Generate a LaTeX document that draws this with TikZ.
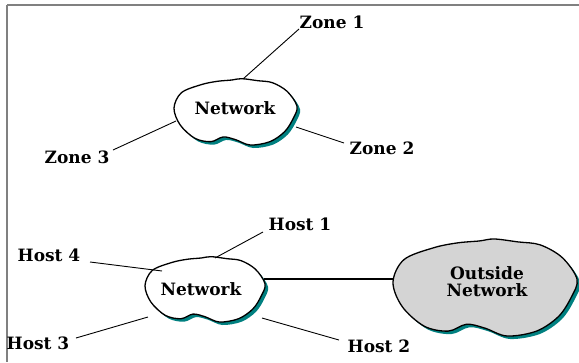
\documentclass[tikz,border=0pt]{standalone}
\usepackage{fontspec}
\setmainfont{DejaVu Serif}
\definecolor{shadowteal}{RGB}{0,128,128}
\definecolor{framegray}{RGB}{128,128,128}
\definecolor{outsidegray}{RGB}{212,212,212}
\newcommand\cloudpts{plot[smooth cycle, tension=0.55] coordinates {(0.55,0.01) (0.68,0.04) (0.8,0.07) (0.92,0.2) (1.0,0.42) (0.97,0.6) (0.9,0.8) (0.78,0.95) (0.62,1.0) (0.5,0.92) (0.4,0.88) (0.3,0.95) (0.17,0.9) (0.05,0.7) (0.0,0.45) (0.06,0.22) (0.22,0.1) (0.35,0.05) (0.47,0.03)}}
\newcommand\mycloud[5]{%
  \begin{scope}[shift={(#1+3,#2+3)},xscale=#3,yscale=#4]
    \fill[shadowteal] \cloudpts;
  \end{scope}
  \begin{scope}[shift={(#1,#2)},xscale=#3,yscale=#4]
    \filldraw[fill=#5,draw=black,line width=1.3pt] \cloudpts;
  \end{scope}}
\tikzset{
  lbl/.style={font=\fontsize{17}{17}\selectfont\bfseries, inner sep=0pt, anchor=center, align=center},
  link/.style={draw=black, line width=0.9pt},
  trunk/.style={draw=black, line width=2pt}
}
\begin{document}
\begin{tikzpicture}[x=1pt,y=-1pt]
\useasboundingbox (0,0) rectangle (579,362);
\fill[white] (0,0) rectangle (579,362);
% frame
\draw[framegray, line width=1.5pt] (7,5) -- (579,5);
\draw[framegray, line width=2pt] (7,5) -- (7,362);
% clouds
\mycloud{174}{78}{123}{67}{white}
\mycloud{145}{256}{120}{66}{white}
\mycloud{393}{238}{184}{98}{outsidegray}
% cloud texts
\node[lbl] (net1) at (235,108) {Network};
\node[lbl] (net2) at (201,289) {Network};
\node[lbl] (outnet) at (487,282) {Outside\\Network};
% labels
\node[lbl] (z1) at (332,22) {Zone 1};
\node[lbl] (z3) at (77,157) {Zone 3};
\node[lbl] (z2) at (382,148) {Zone 2};
\node[lbl] (h4) at (49,255) {Host 4};
\node[lbl] (h1) at (300,224) {Host 1};
\node[lbl] (h3) at (38,343) {Host 3};
\node[lbl] (h2) at (379,346) {Host 2};
% attach points
\coordinate (c1z1) at (243,79);
\coordinate (c1z3) at (176,121);
\coordinate (c1z2) at (296,127);
\coordinate (c2h4) at (162,271);
\coordinate (c2h1) at (215,258);
\coordinate (c2h3) at (148,317);
\coordinate (c2h2) at (262,318);
\coordinate (c2out) at (264,279);
\coordinate (c3in) at (393,279);
\coordinate (e1) at (299,29);
\coordinate (e3) at (113,150);
\coordinate (e2) at (344,143);
\coordinate (f4) at (90,262);
\coordinate (f1) at (263,232);
\coordinate (f3) at (76,338);
\coordinate (f2) at (339,340);
\draw[link] (c1z1) -- (e1);
\draw[link] (c1z3) -- (e3);
\draw[link] (c1z2) -- (e2);
\draw[link] (c2h4) -- (f4);
\draw[link] (c2h1) -- (f1);
\draw[link] (c2h3) -- (f3);
\draw[link] (c2h2) -- (f2);
\draw[trunk] (c2out) -- (c3in);
\end{tikzpicture}
\end{document}
